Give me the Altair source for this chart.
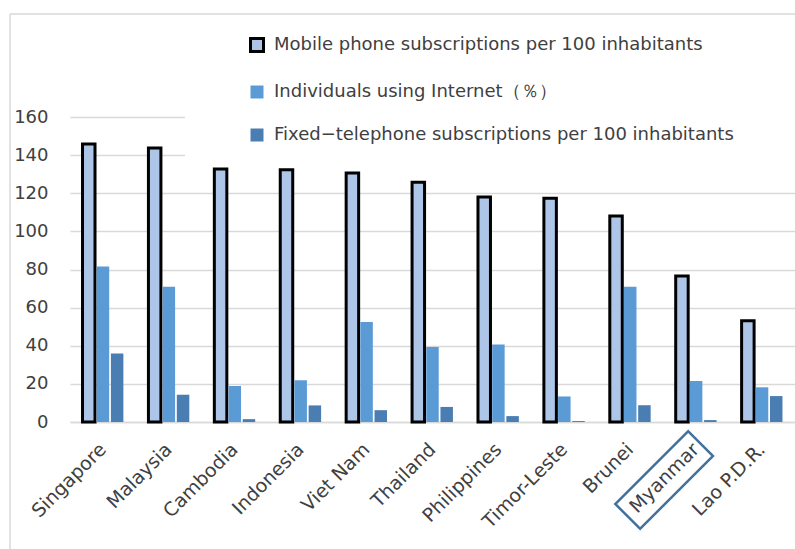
import altair as alt
import pandas as pd

countries = ["Singapore", "Malaysia", "Cambodia", "Indonesia", "Viet Nam", "Thailand",
             "Philippines", "Timor-Leste", "Brunei", "Myanmar", "Lao P.D.R."]
series = ["Mobile phone subscriptions per 100 inhabitants",
          "Individuals using Internet（％）",
          "Fixed−telephone subscriptions per 100 inhabitants"]
mobile = [145.9, 143.8, 132.7, 132.3, 130.6, 125.8, 118.0, 117.4, 108.1, 76.6, 53.1]
internet = [81.6, 70.9, 18.9, 21.9, 52.5, 39.3, 40.7, 13.4, 71.0, 21.5, 18.2]
fixed = [35.9, 14.3, 1.5, 8.7, 6.2, 7.9, 3.1, 0.5, 8.8, 1.0, 13.6]
y_ticks = [0, 20, 40, 60, 80, 100, 120, 140, 160]
highlight = ["Myanmar"]

fill_colors = ["#adc6e8", "#5b9bd5", "#4a7eb3"]
stroke_colors = ["#000000", "transparent", "transparent"]

rows = []
for i, c in enumerate(countries):
    for s, vals in zip(series, [mobile, internet, fixed]):
        rows.append({"country": c, "series": s, "value": vals[i]})
df = pd.DataFrame(rows)

FONT = "DejaVu Sans"

legend = alt.Legend(
    title=None, orient="none", legendX=115, legendY=-99, padding=18,
    fillColor="white", symbolOffset=45, symbolType="square", symbolSize=169,
    symbolStrokeWidth=2.5, labelFontSize=18, labelColor="#404040", labelFont=FONT,
    labelLimit=1000, rowPadding=24, labelOffset=8,
)

x_enc = alt.X(
    "country:N", sort=countries,
    scale=alt.Scale(paddingInner=0.38, paddingOuter=0.19),
    axis=alt.Axis(title=None, labelAngle=-45, labelAlign="right", labelBaseline="middle",
                  labelPadding=24, labelFontSize=19, labelFont=FONT, labelColor="#404040",
                  ticks=False, domain=True, domainColor="#d9d9d9", domainWidth=1.5,
                  grid=False, labelLimit=300),
)

bars = alt.Chart(df).mark_bar().encode(
    x=x_enc,
    xOffset=alt.XOffset("series:N", sort=series, scale=alt.Scale(paddingInner=0.12)),
    y=alt.Y("value:Q", scale=alt.Scale(domain=[0, 160], nice=False),
            axis=alt.Axis(title=None, values=y_ticks, labelFontSize=18, labelFont=FONT,
                          labelColor="#404040", labelPadding=22, domain=False, ticks=False,
                          grid=True, gridColor="#d9d9d9", gridWidth=1.5)),
    fill=alt.Fill("series:N", sort=series,
                  scale=alt.Scale(domain=series, range=fill_colors), legend=legend),
    stroke=alt.Stroke("series:N", sort=series,
                      scale=alt.Scale(domain=series, range=stroke_colors), legend=legend),
    strokeWidth=alt.StrokeWidth("series:N", sort=series,
                                scale=alt.Scale(domain=series, range=[3, 0, 0]), legend=None),
)

box_path = "M-1,-0.34L1,-0.34L1,0.34L-1,0.34Z"
hl = alt.Chart(pd.DataFrame({"country": highlight})).mark_point(
    shape=box_path, size=10609, angle=315, filled=False, stroke="#41719c",
    strokeWidth=2.5, opacity=1, xOffset=-32,
).encode(x=alt.X("country:N", sort=countries), y=alt.value(363))

frame_df = pd.DataFrame({"k": [0]})
# white legend area box (hides gridlines behind the legend, as in the original)
legend_bg = alt.Chart(frame_df).mark_rect(color="white").encode(
    x=alt.value(115), x2=alt.value(730), y=alt.value(-98), y2=alt.value(43))
frame_left = alt.Chart(frame_df).mark_rule(color="#d9d9d9", strokeWidth=1.5).encode(
    x=alt.value(-60), y=alt.value(-103), y2=alt.value(440))
frame_top = alt.Chart(frame_df).mark_rule(color="#d9d9d9", strokeWidth=1.5).encode(
    x=alt.value(-60), x2=alt.value(740), y=alt.value(-103))

chart = alt.layer(frame_left, frame_top, legend_bg, bars, hl).properties(
    width=725, height=305,
    padding={"left": 70, "top": 117, "right": 0, "bottom": 127},
    autosize=alt.AutoSizeParams(type="none"),
    background="white",
).configure_view(stroke=None)

chart.save("out.html", embed_options={"renderer": "svg", "actions": False})
